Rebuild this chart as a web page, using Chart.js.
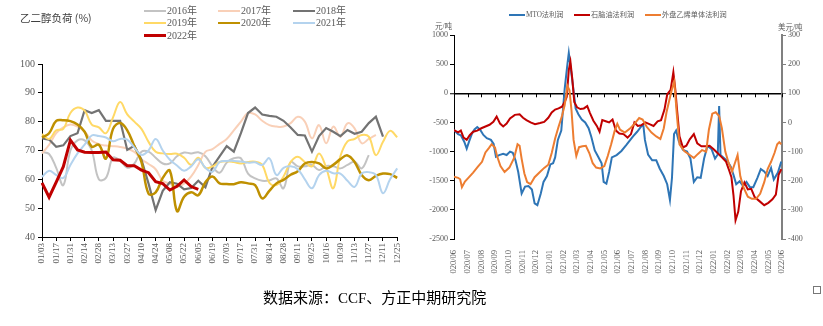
<!DOCTYPE html>
<html>
<head>
<meta charset="utf-8">
<script src="https://cdn.jsdelivr.net/npm/chart.js@4.4.1/dist/chart.umd.min.js"></script>
<style>
  body { margin: 0; width: 823px; height: 326px; background: #fff; overflow: hidden; position: relative;
         font-family: 'Liberation Serif', 'Noto Sans CJK SC', serif; }
  .box { position: absolute; top: 0; height: 290px; }
  #loadBox { left: 0; width: 410px; }
  #profitBox { left: 420px; width: 403px; }
  .txt { position: absolute; white-space: nowrap; color: #595959; }
  .key { position: absolute; height: 0; }
  #title { left: 20px; top: 10px; font-size: 10.5px; color: #404040; font-family: 'Noto Sans CJK SC', sans-serif; }
  #source { left: 263px; top: 290px; font-size: 15px; line-height: 16px; color: #000; }
  #corner { position: absolute; left: 813px; top: 286px; width: 6px; height: 6px; border: 1px solid #777; }
</style>
</head>
<body>
<div id="loadBox" class="box"><canvas id="loadChart"></canvas></div>
<div id="profitBox" class="box"><canvas id="profitChart"></canvas></div>
<div id="title" class="txt">乙二醇负荷 (%)</div>
<div id="loadLegend"></div>
<div id="profitLegend"></div>
<div class="txt" style="left:435px;top:20px;font-size:7.5px;">元/吨</div>
<div class="txt" style="left:778px;top:21px;font-size:7.5px;">美元/吨</div>
<div id="source" class="txt">数据来源：CCF、方正中期研究院</div>
<div id="corner"></div>
<script>
// weekly categories, one label shown every two weeks
const weekLabels = ['01/03','01/10','01/17','01/24','01/31','02/07','02/14','02/21','02/28','03/06',
  '03/13','03/20','03/27','04/03','04/10','04/17','04/24','05/01','05/08','05/15',
  '05/22','05/29','06/05','06/12','06/19','06/26','07/03','07/10','07/17','07/24',
  '07/31','08/07','08/14','08/21','08/28','09/04','09/11','09/18','09/25','10/09',
  '10/16','10/23','10/30','11/06','11/13','11/20','11/27','12/04','12/11','12/18','12/25'];

const load2016 = [69.5, 68.8, 64, 58, 70, 73.5, 73.5, 70, 60, 60.5, 67.5, 66.5, 64, 65.5, 69.6, 69.6, 67.5, 65.5, 65.5, 68,
  69.3, 69, 69.4, 68, 64.5, 62.3, 65.8, 67.3, 67.3, 62, 60.3, 59.5, 59.6, 60.3, 56.9, 66, 64.5, 64.5, 65, 63.2,
  64.6, 64.5, 63.8, 65, 66.1, 63.8, 68.4];
const load2017 = [69, 72, 76, 78, 79, 78.3, 76.5, 73.5, 72.2, 71.7, 71.5, 71.2, 70.6, 69.5, 67, 65.3, 63.5, 59.5, 58.5, 57.4,
  58.5, 61, 65, 69.5, 70.5, 72.3, 74, 77, 80, 83, 82.5, 80.3, 78.8, 78.3, 78.3, 79.5, 81.7, 80, 74.2, 78.8,
  72.5, 78.3, 74.8, 79.4, 77.7, 72.5, 74, 75.4];
const load2018 = [74.2, 73.8, 71.3, 71.8, 75, 76, 84, 83, 84, 80.3, 80.3, 80.3, 70.2, 71.6, 66.8, 58.5, 49.3, 56, 59, 58.5,
  56.5, 57, 59.5, 57.2, 64.4, 68, 71.5, 69.6, 76, 83, 84.9, 82.5, 82, 81.7, 80.3, 78, 75.4, 75.2, 69.6, 75,
  77.8, 76.5, 75, 77.1, 75.8, 76.5, 79.5, 81.7, 74.8];
const load2019 = [75.7, 74, 77, 77.5, 83, 84.9, 83.8, 79, 78, 76, 81.5, 86.8, 82.5, 80, 77.5, 73, 69.6, 69, 68.8, 68.9,
  67.5, 65, 67.5, 64, 64.5, 66, 66.3, 66, 65.5, 66, 66.1, 65, 58.8, 58, 61, 66, 67.8, 66, 64.5, 69,
  64, 56.9, 68, 73.2, 74, 75.4, 74.8, 68.4, 73, 76.8, 74.6];
const load2020 = [74.5, 76, 80.3, 80.5, 80.2, 79, 76.5, 71.3, 72, 67.2, 77.5, 79.5, 77, 71.5, 66, 55, 55.5, 60.5, 63, 49,
  54, 55.5, 54.5, 59, 61, 58.6, 58.4, 58.3, 59, 58.6, 58, 53.4, 56, 58.6, 59.8, 61.6, 62.8, 65.5, 66, 65.5,
  63.8, 65, 67, 68.3, 66, 61.5, 59.7, 61.2, 62, 61.8, 60.5];
const load2021 = [60.8, 63, 61.5, 60.5, 65, 69, 72, 75.2, 75, 74.5, 73.2, 74, 73.8, 71, 68.5, 70, 74, 70, 66.8, 64.8,
  63, 64.5, 67, 64, 62.6, 66, 66.4, 66.4, 66.2, 65.8, 65.9, 65, 67.3, 61.5, 64, 64.5, 63.5, 60, 56.9, 61.5,
  63, 62.1, 62, 59.5, 57.4, 62, 62.5, 61.5, 55.2, 60, 63.8];
const load2022 = [58.8, 53.8, 59, 64.4, 73.6, 70.2, 69.4, 69.3, 69.3, 69.5, 66.8, 66.6, 64.7, 64.7, 63.2, 62.3, 59.2, 58.5, 56.3, 57.6,
  59.8, 57.5, 56.5];

// monthly axis labels; profit points are [month index, value]
const monthLabels = ['2020/06','2020/07','2020/08','2020/09','2020/10','2020/11','2020/12','2021/01','2021/02',
  '2021/03','2021/04','2021/05','2021/06','2021/07','2021/08','2021/09','2021/10','2021/11','2021/12',
  '2022/01','2022/02','2022/03','2022/04','2022/05','2022/06'];

const mtoProfit = [[0,-630],[0.3,-700],[0.5,-720],[0.75,-830],[0.93,-950],[1.1,-830],[1.3,-700],[1.5,-620],[1.7,-580],[1.9,-620],
  [2.15,-715],[2.4,-770],[2.7,-800],[2.9,-870],[3.07,-1090],[3.3,-1060],[3.6,-1040],[3.85,-1060],[4.1,-1000],[4.3,-1020],
  [4.5,-1150],[4.7,-1350],[4.95,-1720],[5.2,-1600],[5.45,-1590],[5.7,-1650],[5.9,-1890],[6.1,-1920],[6.35,-1720],[6.55,-1520],
  [6.8,-1420],[7.05,-1220],[7.25,-1200],[7.4,-1100],[7.6,-800],[7.85,-640],[8.1,80],[8.3,500],[8.4,690],[8.55,420],
  [8.72,100],[8.9,-260],[9.1,-360],[9.35,-450],[9.6,-500],[9.85,-600],[10.05,-750],[10.3,-980],[10.55,-1090],[10.8,-1200],
  [10.95,-1520],[11.15,-1550],[11.35,-1350],[11.55,-1100],[11.9,-1060],[12.25,-990],[12.6,-890],[12.9,-800],[13.1,-740],[13.4,-660],
  [13.7,-570],[13.85,-540],[13.97,-800],[14.2,-1050],[14.5,-1150],[14.8,-1150],[15.05,-1290],[15.35,-1420],[15.6,-1560],[15.8,-1830],
  [15.95,-1450],[16.1,-700],[16.25,-640],[16.45,-820],[16.75,-970],[17.05,-1000],[17.3,-1120],[17.55,-1520],[17.8,-1440],[18.05,-1450],
  [18.3,-1120],[18.55,-900],[18.85,-960],[19.1,-1120],[19.3,-1050],[19.4,-220],[19.5,-1060],[19.75,-1110],[20,-1160],[20.25,-1260],
  [20.45,-1400],[20.65,-1560],[20.9,-1510],[21.15,-1590],[21.4,-1520],[21.65,-1610],[21.9,-1610],[22.2,-1450],[22.45,-1300],[22.7,-1340],
  [22.95,-1420],[23.2,-1280],[23.4,-1480],[23.7,-1360],[23.95,-1170]];

const naphthaProfit = [[0,-630],[0.3,-670],[0.5,-640],[0.7,-760],[0.93,-800],[1.15,-720],[1.4,-660],[1.7,-640],[2,-600],[2.3,-570],
  [2.6,-540],[2.88,-490],[3.12,-400],[3.37,-520],[3.6,-570],[3.85,-520],[4.1,-430],[4.45,-370],[4.8,-360],[5.05,-420],
  [5.3,-460],[5.6,-500],[5.93,-530],[6.3,-510],[6.6,-490],[6.9,-420],[7.15,-330],[7.4,-280],[7.65,-260],[7.9,-230],
  [8.1,-150],[8.25,-60],[8.4,400],[8.52,540],[8.65,260],[8.8,-150],[9,-240],[9.25,-270],[9.5,-260],[9.75,-220],
  [9.95,-340],[10.2,-470],[10.45,-560],[10.65,-660],[10.85,-460],[11.1,-480],[11.35,-500],[11.6,-450],[11.85,-640],[12.1,-690],
  [12.4,-700],[12.7,-760],[12.95,-700],[13.2,-500],[13.45,-560],[13.7,-550],[14,-500],[14.3,-530],[14.6,-560],[14.9,-480],
  [15.15,-460],[15.4,-280],[15.6,-20],[15.85,60],[16.05,360],[16.2,50],[16.3,-230],[16.5,-740],[16.75,-930],[17,-900],
  [17.25,-790],[17.55,-700],[17.8,-860],[18.1,-910],[18.4,-910],[18.7,-900],[19,-960],[19.3,-1030],[19.6,-1100],[19.9,-1170],
  [20.1,-1300],[20.3,-1440],[20.45,-1750],[20.6,-2180],[20.8,-2030],[21,-1680],[21.25,-1530],[21.5,-1650],[21.75,-1640],[22,-1780],
  [22.35,-1850],[22.7,-1920],[23,-1880],[23.3,-1820],[23.55,-1740],[23.75,-1400],[23.95,-1300]];

// US$/t, right axis
const ethyleneProfit = [[0,-186],[0.3,-190],[0.45,-195],[0.58,-222],[0.8,-203],[1.05,-190],[1.4,-172],[1.75,-152],[2.05,-135],[2.3,-103],
  [2.55,-88],[2.75,-75],[3,-86],[3.15,-115],[3.4,-150],[3.7,-170],[4.05,-155],[4.4,-122],[4.65,-75],[4.8,-80],
  [4.95,-125],[5.15,-175],[5.35,-205],[5.6,-212],[5.9,-188],[6.25,-172],[6.6,-156],[6.9,-145],[7.15,-105],[7.4,-55],
  [7.65,-15],[7.9,22],[8.1,60],[8.3,125],[8.45,110],[8.6,40],[8.75,-60],[8.95,-115],[9.15,-85],[9.4,-82],
  [9.65,-80],[9.9,-105],[10.15,-140],[10.4,-155],[10.7,-158],[11,-150],[11.25,-115],[11.5,-75],[11.75,-30],[11.95,-5],
  [12.15,-25],[12.5,-35],[12.85,-22],[13.2,-5],[13.55,15],[13.8,10],[14.1,-15],[14.45,-35],[14.8,-48],[15.1,-57],
  [15.35,-20],[15.55,35],[15.75,75],[15.95,115],[16.12,140],[16.3,30],[16.5,-75],[16.85,-98],[17.2,-110],[17.55,-122],
  [17.85,-108],[18.15,-95],[18.45,-100],[18.65,-25],[18.9,30],[19.15,35],[19.4,22],[19.6,-20],[19.85,-100],[20.1,-140],
  [20.35,-168],[20.55,-140],[20.75,-112],[20.95,-185],[21.2,-225],[21.5,-255],[21.8,-262],[22.1,-262],[22.4,-245],[22.7,-205],
  [22.95,-160],[23.2,-135],[23.45,-105],[23.65,-75],[23.8,-68],[23.95,-75]];

const SERIF = "'Liberation Serif', 'Noto Sans CJK SC', serif";
Chart.defaults.font.family = SERIF;
Chart.defaults.color = '#595959';

const loadSeries = [
  { label: '2016年', data: load2016, color: '#c3c3c3', width: 2, tension: 0.4 },
  { label: '2017年', data: load2017, color: '#f9d0b8', width: 2, tension: 0.4 },
  { label: '2018年', data: load2018, color: '#737373', width: 2.2, tension: 0 },
  { label: '2019年', data: load2019, color: '#ffd966', width: 2, tension: 0.4 },
  { label: '2020年', data: load2020, color: '#bf9000', width: 2.5, tension: 0.4 },
  { label: '2021年', data: load2021, color: '#b4d3ee', width: 2, tension: 0.4 },
  { label: '2022年', data: load2022, color: '#c00000', width: 3, tension: 0 }
];

new Chart(document.getElementById('loadChart'), {
  type: 'line',
  data: {
    labels: weekLabels,
    datasets: loadSeries.map((s, i) => ({
      label: s.label, data: s.data, borderColor: s.color, borderWidth: s.width,
      tension: s.tension, pointRadius: 0, fill: false, order: loadSeries.length - i
    }))
  },
  options: {
    responsive: true, maintainAspectRatio: false, animation: false,
    layout: { padding: { top: 64, right: 12, bottom: 18, left: 0 } },
    plugins: { legend: { display: false }, tooltip: { enabled: false } },
    scales: {
      x: {
        offset: false,
        grid: { drawOnChartArea: false, tickLength: 4,
                color: ctx => ctx.index % 2 ? 'rgba(0,0,0,0)' : '#000' },
        border: { color: '#000' },
        ticks: { autoSkip: false, minRotation: 90, maxRotation: 90, padding: 2, font: { size: 9 },
                 callback: (v, i) => i % 2 ? '' : weekLabels[i] },
        afterFit: s => { s.height = 35; }
      },
      y: {
        min: 40, max: 100,
        ticks: { stepSize: 10, padding: 3, font: { size: 10 } },
        grid: { drawOnChartArea: false, tickLength: 4, color: '#000' },
        border: { color: '#000' },
        afterFit: s => { s.width = 42; }
      }
    }
  }
});

// small downward ticks along the zero line
const zeroLineTicks = {
  id: 'zeroLineTicks',
  beforeDatasetsDraw(chart) {
    const x = chart.scales.x, y0 = chart.scales.y.getPixelForValue(0), c = chart.ctx;
    c.save();
    c.strokeStyle = '#000';
    c.lineWidth = 1;
    x.ticks.forEach(t => {
      const px = Math.round(x.getPixelForValue(t.value)) + 0.5;
      c.beginPath(); c.moveTo(px, y0); c.lineTo(px, y0 + 4); c.stroke();
    });
    c.restore();
  }
};

const toPoints = arr => arr.map(p => ({ x: p[0], y: p[1] }));
const plainNumber = v => String(v);

new Chart(document.getElementById('profitChart'), {
  type: 'line',
  data: {
    datasets: [
      { label: 'MTO法利润', data: toPoints(mtoProfit), borderColor: '#2e75b6', yAxisID: 'y', order: 2 },
      { label: '石脑油法利润', data: toPoints(naphthaProfit), borderColor: '#c00000', yAxisID: 'y', order: 1 },
      { label: '外盘乙烯单体法利润', data: toPoints(ethyleneProfit), borderColor: '#ed7d31', yAxisID: 'y2', order: 0 }
    ].map(d => Object.assign(d, { borderWidth: 2, pointRadius: 0, tension: 0, fill: false }))
  },
  options: {
    responsive: true, maintainAspectRatio: false, animation: false,
    layout: { padding: { top: 35, right: 19, bottom: 16, left: 0 } },
    plugins: { legend: { display: false }, tooltip: { enabled: false } },
    scales: {
      x: {
        type: 'linear', min: 0, max: 24,
        grid: { display: false }, border: { display: false },
        ticks: { stepSize: 1, autoSkip: false, minRotation: 90, maxRotation: 90, padding: 3, font: { size: 8.5 },
                 callback: v => monthLabels[Math.round(v)] },
        afterFit: s => { s.height = 35; }
      },
      y: {
        position: 'left', min: -2500, max: 1000,
        ticks: { stepSize: 500, padding: 2, font: { size: 8 }, callback: plainNumber },
        grid: { color: ctx => ctx.tick && ctx.tick.value === 0 ? '#000' : 'rgba(0,0,0,0)',
                lineWidth: ctx => ctx.tick && ctx.tick.value === 0 ? 1.5 : 1,
                tickColor: '#000', tickWidth: 1, tickLength: 4 },
        border: { color: '#000' },
        afterFit: s => { s.width = 34; }
      },
      y2: {
        position: 'right', min: -400, max: 300,
        ticks: { stepSize: 100, padding: 2, font: { size: 8 }, callback: plainNumber },
        grid: { drawOnChartArea: false, color: '#808080', tickLength: 4 },
        border: { color: '#808080', width: 2 },
        afterFit: s => { s.width = 22; }
      }
    }
  },
  plugins: [zeroLineTicks]
});

// legends drawn as page text
function addKey(parent, left, top, color, width, text, fontSize) {
  const line = document.createElement('div');
  line.className = 'key';
  line.style.cssText = `left:${left}px;top:${top - width / 2}px;width:${fontSize > 8 ? 22 : 16}px;border-top:${width}px solid ${color};`;
  parent.appendChild(line);
  const label = document.createElement('div');
  label.className = 'txt';
  label.style.cssText = `left:${left + (fontSize > 8 ? 23 : 17)}px;top:${top - fontSize * 0.6}px;font-size:${fontSize}px;line-height:${fontSize * 1.2}px;`;
  label.textContent = text;
  parent.appendChild(label);
}

const loadLegend = document.getElementById('loadLegend');
const legendCols = [144, 218, 293], legendRows = [11, 23, 35.5];
loadSeries.forEach((s, i) => {
  addKey(loadLegend, legendCols[i % 3], legendRows[Math.floor(i / 3)], s.color, s.label === '2022年' ? 3 : 2.2, s.label, 10);
});

const profitLegend = document.getElementById('profitLegend');
[['MTO法利润', '#2e75b6', 509], ['石脑油法利润', '#c00000', 574], ['外盘乙烯单体法利润', '#ed7d31', 645]]
  .forEach(k => addKey(profitLegend, k[2], 15, k[1], 2, k[0], 7.2));
</script>
</body>
</html>
